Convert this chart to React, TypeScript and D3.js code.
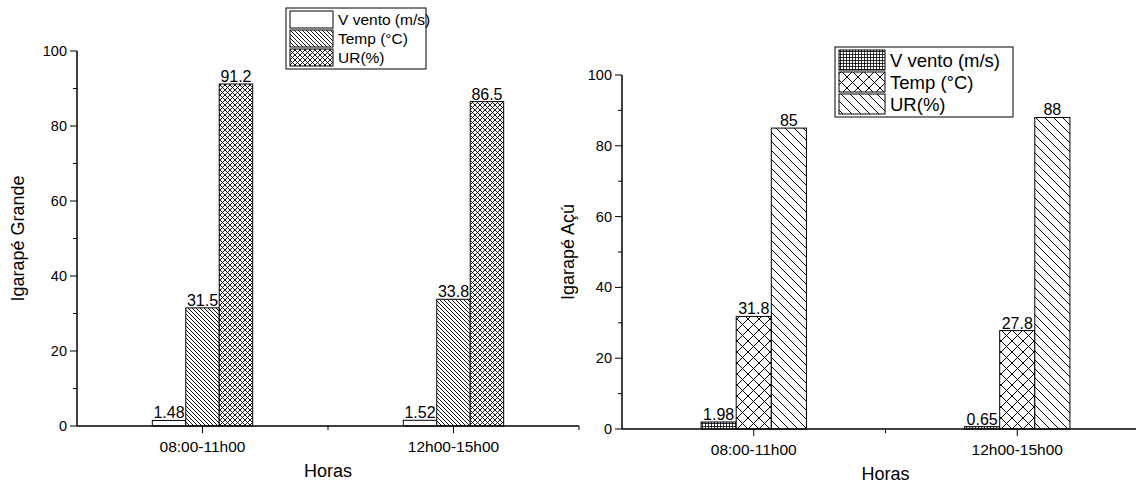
import React from 'react';
import * as d3 from 'd3';

const categories = ['08:00-11h00', '12h00-15h00'];
const seriesNames = ['V vento (m/s)', 'Temp (°C)', 'UR(%)'];

const grandeVento = [1.48, 1.52];
const grandeTemp = [31.5, 33.8];
const grandeUR = [91.2, 86.5];

const acuVento = [1.98, 0.65];
const acuTemp = [31.8, 27.8];
const acuUR = [85, 88];

const yTicks = [0, 20, 40, 60, 80, 100];
const yMinor = [10, 30, 50, 70, 90];

const font = 'Arial, "Liberation Sans", sans-serif';
const barW = 0.1333; // bar width in category units

type Panel = {
  title: string;
  values: number[][];
  fills: string[];
  xRange: [number, number];
  yRange: [number, number];
  titleX: number;
  legend: { x: number; y: number; w: number; sw: number; sh: number; row: number; fs: number };
};

const panels: Panel[] = [
  {
    title: 'Igarapé Grande',
    values: [grandeVento, grandeTemp, grandeUR],
    fills: ['#fff', 'url(#diagDense)', 'url(#crossDense)'],
    xRange: [77, 579],
    yRange: [426, 51],
    titleX: 18,
    legend: { x: 286, y: 8, w: 140, sw: 43, sh: 17, row: 19, fs: 15.5 },
  },
  {
    title: 'Igarapé Açú',
    values: [acuVento, acuTemp, acuUR],
    fills: ['url(#grid)', 'url(#crossSparse)', 'url(#diagSparse)'],
    xRange: [622, 1149],
    yRange: [429, 75],
    titleX: 568,
    legend: { x: 835, y: 47, w: 178, sw: 46, sh: 20, row: 22, fs: 18.5 },
  },
];

const ChartPanel: React.FC<{ p: Panel }> = ({ p }) => {
  const x = d3.scaleLinear([0.5, 2.5], p.xRange);
  const y = d3.scaleLinear([0, 100], p.yRange);
  const [x0, x1] = p.xRange;
  const y0 = y(0);
  const lg = p.legend;

  return (
    <g>
      {/* bars */}
      {p.values.map((vals, si) =>
        vals.map((v, ci) => {
          const c = ci + 1;
          const left = x(c + (si - 1.5) * barW);
          const right = x(c + (si - 0.5) * barW);
          return (
            <g key={`${si}-${ci}`}>
              <rect
                x={left}
                y={y(v)}
                width={right - left}
                height={y0 - y(v)}
                fill={p.fills[si]}
                stroke="#000"
                strokeWidth={1}
              />
              <text
                x={(left + right) / 2}
                y={y(v) - 2}
                textAnchor="middle"
                fontSize={16}
                fontFamily={font}
              >
                {v}
              </text>
            </g>
          );
        })
      )}

      {/* axes */}
      <line x1={x0} x2={x1} y1={y0} y2={y0} stroke="#000" strokeWidth={1.5} />
      <line x1={x0} x2={x0} y1={y0} y2={y(100)} stroke="#000" strokeWidth={1.5} />
      {categories.map((c, i) => (
        <g key={c}>
          <line x1={x(i + 1)} x2={x(i + 1)} y1={y0} y2={y0 + 7} stroke="#000" />
          <text
            x={x(i + 1)}
            y={y0 + 26}
            textAnchor="middle"
            fontSize={15.5}
            fontFamily={font}
          >
            {c}
          </text>
        </g>
      ))}
      {[1.5, 2.5].map((t) => (
        <line key={t} x1={x(t)} x2={x(t)} y1={y0} y2={y0 + 4} stroke="#000" />
      ))}
      {yTicks.map((t) => (
        <g key={t}>
          <line x1={x0 - 7} x2={x0} y1={y(t)} y2={y(t)} stroke="#000" />
          <text
            x={x0 - 10}
            y={y(t) + 5}
            textAnchor="end"
            fontSize={14.5}
            fontFamily={font}
          >
            {t}
          </text>
        </g>
      ))}
      {yMinor.map((t) => (
        <line key={t} x1={x0 - 4} x2={x0} y1={y(t)} y2={y(t)} stroke="#000" />
      ))}

      {/* titles */}
      <text
        x={x(1.5)}
        y={y0 + 51}
        textAnchor="middle"
        fontSize={18}
        fontFamily={font}
      >
        Horas
      </text>
      <text
        transform={`translate(${p.titleX},${(y0 + y(100)) / 2}) rotate(-90)`}
        textAnchor="middle"
        dy="0.35em"
        fontSize={18}
        fontFamily={font}
      >
        {p.title}
      </text>

      {/* legend */}
      <rect
        x={lg.x}
        y={lg.y}
        width={lg.w}
        height={lg.row * 3 + 4}
        fill="#fff"
        stroke="#000"
        strokeWidth={1}
      />
      {seriesNames.map((s, i) => (
        <g key={s}>
          <rect
            x={lg.x + 4}
            y={lg.y + 3 + i * lg.row}
            width={lg.sw}
            height={lg.sh}
            fill={p.fills[i]}
            stroke="#000"
          />
          <text
            x={lg.x + lg.sw + 9}
            y={lg.y + 3 + i * lg.row + lg.sh / 2}
            dy="0.36em"
            fontSize={lg.fs}
            fontFamily={font}
          >
            {s}
          </text>
        </g>
      ))}
    </g>
  );
};

const App: React.FC = () => {
  return (
    <svg
      width={1136}
      height={483}
      style={{ position: 'absolute', left: 0, top: 0, background: '#fff' }}
    >
      <defs>
        <pattern id="diagDense" width={4} height={4} patternUnits="userSpaceOnUse">
          <rect width={4} height={4} fill="#fff" />
          <path d="M0,0 L4,4 M-1,3 L1,5 M3,-1 L5,1" stroke="#000" strokeWidth={0.9} />
        </pattern>
        <pattern id="crossDense" width={5} height={5} patternUnits="userSpaceOnUse">
          <rect width={5} height={5} fill="#fff" />
          <path
            d="M0,0 L5,5 M-1,4 L1,6 M4,-1 L6,1 M0,5 L5,0 M-1,1 L1,-1 M4,6 L6,4"
            stroke="#000"
            strokeWidth={0.9}
          />
        </pattern>
        <pattern id="grid" width={3} height={3} patternUnits="userSpaceOnUse">
          <rect width={3} height={3} fill="#fff" />
          <path d="M0,0.5 L3,0.5 M0.5,0 L0.5,3" stroke="#000" strokeWidth={0.8} />
        </pattern>
        <pattern id="crossSparse" width={11} height={11} patternUnits="userSpaceOnUse">
          <rect width={11} height={11} fill="#fff" />
          <path
            d="M0,0 L11,11 M-1,10 L1,12 M10,-1 L12,1 M0,11 L11,0 M-1,1 L1,-1 M10,12 L12,10"
            stroke="#000"
            strokeWidth={1}
          />
        </pattern>
        <pattern id="diagSparse" width={9} height={9} patternUnits="userSpaceOnUse">
          <rect width={9} height={9} fill="#fff" />
          <path d="M0,0 L9,9 M-1,8 L1,10 M8,-1 L10,1" stroke="#000" strokeWidth={1} />
        </pattern>
      </defs>
      {panels.map((p) => (
        <ChartPanel key={p.title} p={p} />
      ))}
    </svg>
  );
};

export default App;
